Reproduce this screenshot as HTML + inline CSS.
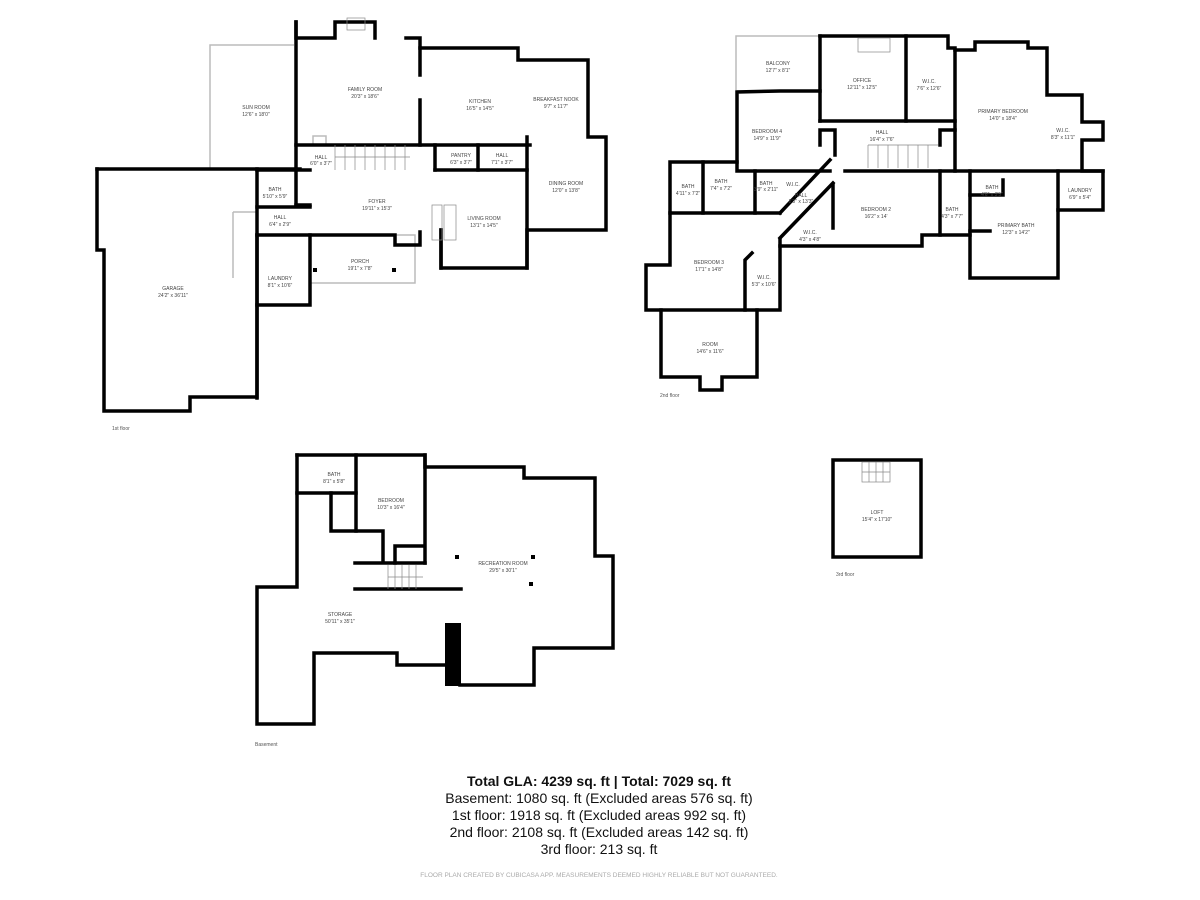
<!DOCTYPE html>
<html><head><meta charset="utf-8"><style>
html,body{margin:0;padding:0;background:#fff;width:1200px;height:900px;overflow:hidden}
svg{display:block}
.w{fill:none;stroke:#000;stroke-width:3.5;stroke-linecap:square;stroke-linejoin:miter}
.t{fill:none;stroke:#bbb;stroke-width:1.5}
.l{font-family:"Liberation Sans",sans-serif;font-size:5px;fill:#444;text-anchor:middle}
.s{font-family:"Liberation Sans",sans-serif;font-size:5px;fill:#555}
.g{font-family:"Liberation Sans",sans-serif;font-size:14px;fill:#111;text-anchor:middle}
</style></head><body>
<svg width="1200" height="900" viewBox="0 0 1200 900">
<!-- 1st floor -->
<g class="t">
<polyline points="210,170 210,45 294,45"/>
<rect x="310" y="235" width="105" height="48"/>
<polyline points="233,212 257,212 M233,212 233,278 257,278"/>
<line x1="233" y1="212" x2="233" y2="278"/>
<line x1="97" y1="170" x2="97" y2="250"/>
<line x1="104" y1="255" x2="104" y2="410"/>
<rect x="313" y="136" width="13" height="9"/>
</g>
<g class="w">
<polyline points="97,169 97,250 104,250 104,411 190,411 190,397 257,397 257,169"/>
<line x1="97" y1="169" x2="300" y2="169"/>
<polyline points="296,22 296,38 335,38 335,22 375,22 375,38"/>
<polyline points="406,38 420,38 420,48 518,48 518,60 588,60 588,137 606,137 606,230 527,230 527,268 441,268 441,230"/>
<line x1="296" y1="22" x2="296" y2="205"/>
<line x1="420" y1="48" x2="420" y2="75"/>
<line x1="420" y1="100" x2="420" y2="145"/>
<line x1="296" y1="145" x2="530" y2="145"/>
<line x1="257" y1="170" x2="310" y2="170"/>
<line x1="257" y1="207" x2="310" y2="207"/>
<polyline points="257,235 395,235 395,245 420,245 420,232"/>
<polyline points="441,230 441,268"/>
<polyline points="257,305 310,305 310,235"/>
<line x1="257" y1="235" x2="257" y2="398"/>
<line x1="435" y1="145" x2="435" y2="170"/>
<line x1="435" y1="170" x2="527" y2="170"/>
<line x1="478" y1="145" x2="478" y2="170"/>
<line x1="527" y1="137" x2="527" y2="268"/>
<line x1="296" y1="205" x2="310" y2="205"/>
</g>
<g stroke="#888" stroke-width="0.7" fill="none">
<path d="M335,145 V170 M345,145 V170 M355,145 V170 M365,145 V170 M375,145 V170 M385,145 V170 M395,145 V170 M405,145 V170 M335,157 H410"/>
<rect x="432" y="205" width="10" height="35"/><rect x="444" y="205" width="12" height="35"/>
<rect x="347" y="18" width="18" height="12"/>
</g>
<rect x="313" y="268" width="4" height="4"/><rect x="392" y="268" width="4" height="4"/>
<text class="l" x="256" y="109">SUN ROOM</text><text class="l" x="256" y="116">12'6" x 18'0"</text>
<text class="l" x="365" y="91">FAMILY ROOM</text><text class="l" x="365" y="98">20'3" x 18'6"</text>
<text class="l" x="480" y="103">KITCHEN</text><text class="l" x="480" y="110">16'5" x 14'5"</text>
<text class="l" x="556" y="101">BREAKFAST NOOK</text><text class="l" x="556" y="108">9'7" x 11'7"</text>
<text class="l" x="321" y="159">HALL</text><text class="l" x="321" y="165">6'0" x 3'7"</text>
<text class="l" x="461" y="157">PANTRY</text><text class="l" x="461" y="164">6'3" x 3'7"</text>
<text class="l" x="502" y="157">HALL</text><text class="l" x="502" y="164">7'1" x 3'7"</text>
<text class="l" x="566" y="185">DINING ROOM</text><text class="l" x="566" y="192">12'0" x 13'8"</text>
<text class="l" x="275" y="191">BATH</text><text class="l" x="275" y="198">5'10" x 5'9"</text>
<text class="l" x="377" y="203">FOYER</text><text class="l" x="377" y="210">19'11" x 15'3"</text>
<text class="l" x="484" y="220">LIVING ROOM</text><text class="l" x="484" y="227">13'1" x 14'5"</text>
<text class="l" x="280" y="219">HALL</text><text class="l" x="280" y="226">6'4" x 2'9"</text>
<text class="l" x="360" y="263">PORCH</text><text class="l" x="360" y="270">19'1" x 7'8"</text>
<text class="l" x="280" y="280">LAUNDRY</text><text class="l" x="280" y="287">8'1" x 10'6"</text>
<text class="l" x="173" y="290">GARAGE</text><text class="l" x="173" y="297">24'2" x 36'11"</text>
<text class="s" x="112" y="430">1st floor</text>

<!-- 2nd floor -->
<g class="t"><polyline points="736,90 736,36 820,36"/></g>
<g class="w">
<polyline points="820,36 906,36 948,36 948,48 955,48 955,50 975,50 975,42 1028,42 1028,48 1047,48 1047,95 1082,95 1082,122 1103,122 1103,140 1082,140 1082,171 1103,171 1103,210 1058,210 1058,278 970,278 970,171"/>
<line x1="820" y1="36" x2="820" y2="121"/>
<line x1="906" y1="36" x2="906" y2="121"/>
<line x1="955" y1="50" x2="955" y2="171"/>
<line x1="820" y1="121" x2="955" y2="121"/>
<polyline points="820,91 780,91 737,92 737,171 830,171"/>
<line x1="845" y1="171" x2="1103" y2="171"/>
<line x1="1058" y1="171" x2="1058" y2="210"/>
<polyline points="737,162 670,162 670,213 780,213"/>
<line x1="703" y1="162" x2="703" y2="213"/>
<line x1="755" y1="171" x2="755" y2="213"/>
<polyline points="670,213 670,265 646,265 646,310 780,310 780,240"/>
<polyline points="661,310 661,377 700,377 700,390 722,390 722,377 757,377 757,310"/>
<polyline points="745,310 745,260 752,253"/>
<line x1="780" y1="213" x2="830" y2="160"/>
<line x1="780" y1="238" x2="833" y2="183"/>
<polyline points="780,246 922,246 922,235 970,235"/>
<line x1="833" y1="185" x2="833" y2="228"/>
<line x1="940" y1="171" x2="940" y2="235"/>
<polyline points="970,195 1003,195 1003,180"/>
<line x1="970" y1="231" x2="990" y2="231"/>
<polyline points="820,145 820,130 835,130 835,155"/>
<polyline points="940,145 940,130 955,130"/>
</g>
<g stroke="#888" stroke-width="0.7" fill="none">
<path d="M868,145 V168 M878,145 V168 M888,145 V168 M898,145 V168 M908,145 V168 M918,145 V168 M928,145 V168 M868,145 H938"/>
<rect x="858" y="38" width="32" height="14"/>
</g>
<text class="l" x="778" y="65">BALCONY</text><text class="l" x="778" y="72">12'7" x 8'1"</text>
<text class="l" x="862" y="82">OFFICE</text><text class="l" x="862" y="89">12'11" x 12'5"</text>
<text class="l" x="929" y="83">W.I.C.</text><text class="l" x="929" y="90">7'6" x 12'6"</text>
<text class="l" x="1003" y="113">PRIMARY BEDROOM</text><text class="l" x="1003" y="120">14'0" x 18'4"</text>
<text class="l" x="767" y="133">BEDROOM 4</text><text class="l" x="767" y="140">14'9" x 11'9"</text>
<text class="l" x="882" y="134">HALL</text><text class="l" x="882" y="141">16'4" x 7'6"</text>
<text class="l" x="1063" y="132">W.I.C.</text><text class="l" x="1063" y="139">8'3" x 11'1"</text>
<text class="l" x="688" y="188">BATH</text><text class="l" x="688" y="195">4'11" x 7'2"</text>
<text class="l" x="721" y="183">BATH</text><text class="l" x="721" y="190">7'4" x 7'2"</text>
<text class="l" x="766" y="185">BATH</text><text class="l" x="766" y="191">3'9" x 2'11"</text>
<text class="l" x="793" y="186">W.I.C.</text>
<text class="l" x="801" y="197">HALL</text><text class="l" x="801" y="203">2'3" x 13'3"</text>
<text class="l" x="876" y="211">BEDROOM 2</text><text class="l" x="876" y="218">16'2" x 14'</text>
<text class="l" x="952" y="211">BATH</text><text class="l" x="952" y="218">4'3" x 7'7"</text>
<text class="l" x="992" y="189">BATH</text><text class="l" x="992" y="196">4'6" x 3'5"</text>
<text class="l" x="1080" y="192">LAUNDRY</text><text class="l" x="1080" y="199">6'9" x 5'4"</text>
<text class="l" x="1016" y="227">PRIMARY BATH</text><text class="l" x="1016" y="234">12'3" x 14'2"</text>
<text class="l" x="810" y="234">W.I.C.</text><text class="l" x="810" y="241">4'3" x 4'8"</text>
<text class="l" x="709" y="264">BEDROOM 3</text><text class="l" x="709" y="271">17'1" x 14'8"</text>
<text class="l" x="764" y="279">W.I.C.</text><text class="l" x="764" y="286">5'3" x 10'6"</text>
<text class="l" x="710" y="346">ROOM</text><text class="l" x="710" y="353">14'6" x 11'6"</text>
<text class="s" x="660" y="397">2nd floor</text>

<!-- Basement -->
<g class="w">
<polyline points="297,455 425,455 425,467 524,467 524,478 595,478 595,556 613,556 613,648 534,648 534,685 460,685"/>
<polyline points="297,455 297,587 257,587 257,724 314,724 314,653 397,653 397,665 446,665"/>
<line x1="355" y1="589" x2="461" y2="589"/>
<line x1="297" y1="493" x2="356" y2="493"/>
<polyline points="331,493 331,531 383,531 383,562"/>
<line x1="355" y1="563" x2="425" y2="563"/>
<line x1="425" y1="455" x2="425" y2="563"/>
<line x1="356" y1="455" x2="356" y2="531"/>
<polyline points="395,563 395,546 423,546"/>
</g>
<rect x="445" y="623" width="16" height="63" fill="#000"/>
<g stroke="#888" stroke-width="0.7" fill="none"><path d="M388,565 V589 M395,565 V589 M402,565 V589 M409,565 V589 M416,565 V589 M388,577 H423"/></g>
<rect x="455" y="555" width="4" height="4"/><rect x="531" y="555" width="4" height="4"/><rect x="529" y="582" width="4" height="4"/>
<text class="l" x="334" y="476">BATH</text><text class="l" x="334" y="483">8'1" x 5'8"</text>
<text class="l" x="391" y="502">BEDROOM</text><text class="l" x="391" y="509">10'3" x 16'4"</text>
<text class="l" x="503" y="565">RECREATION ROOM</text><text class="l" x="503" y="572">29'5" x 30'1"</text>
<text class="l" x="340" y="616">STORAGE</text><text class="l" x="340" y="623">50'11" x 35'1"</text>
<text class="s" x="255" y="746">Basement</text>

<!-- Loft -->
<g class="w"><rect x="833" y="460" width="88" height="97"/></g>
<g stroke="#888" stroke-width="0.7" fill="none"><rect x="862" y="462" width="28" height="20"/><path d="M869,462 V482 M876,462 V482 M883,462 V482 M862,472 H890"/></g>
<text class="l" x="877" y="514">LOFT</text><text class="l" x="877" y="521">15'4" x 17'10"</text>
<text class="s" x="836" y="576">3rd floor</text>

<!-- summary -->
<text class="g" x="599" y="786" font-weight="bold">Total GLA: 4239 sq. ft | Total: 7029 sq. ft</text>
<text class="g" x="599" y="803">Basement: 1080 sq. ft (Excluded areas 576 sq. ft)</text>
<text class="g" x="599" y="820">1st floor: 1918 sq. ft (Excluded areas 992 sq. ft)</text>
<text class="g" x="599" y="837">2nd floor: 2108 sq. ft (Excluded areas 142 sq. ft)</text>
<text class="g" x="599" y="854">3rd floor: 213 sq. ft</text>
<text x="599" y="877" font-family="Liberation Sans,sans-serif" font-size="6.5" fill="#aaa" text-anchor="middle">FLOOR PLAN CREATED BY CUBICASA APP. MEASUREMENTS DEEMED HIGHLY RELIABLE BUT NOT GUARANTEED.</text>
</svg>
</body></html>
